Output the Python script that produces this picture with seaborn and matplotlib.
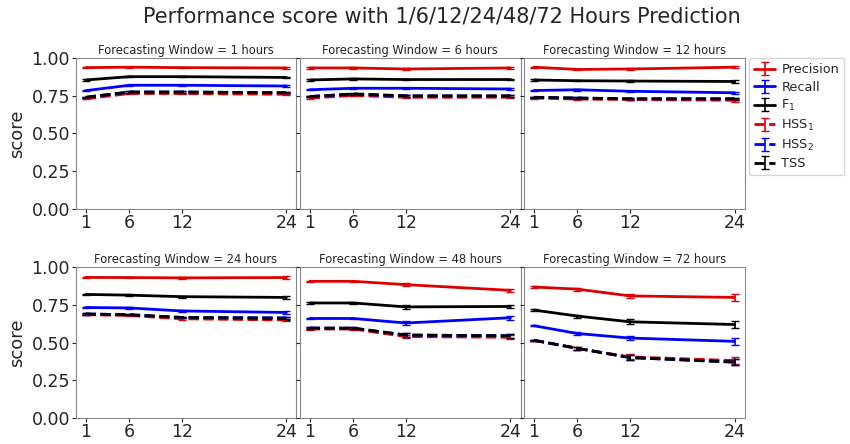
import numpy as np
import pandas as pd
import matplotlib
matplotlib.use('Agg')
import matplotlib.pyplot as plt
import seaborn as sns

windows = [1, 6, 12, 24, 48, 72]
hours = [1, 6, 12, 24]

# one row per forecasting window, one value per prediction hour
precision = [[0.937, 0.940, 0.937, 0.935],
             [0.935, 0.935, 0.928, 0.935],
             [0.940, 0.925, 0.928, 0.940],
             [0.933, 0.932, 0.930, 0.932],
             [0.907, 0.907, 0.885, 0.847],
             [0.869, 0.855, 0.810, 0.800]]
recall = [[0.784, 0.820, 0.820, 0.815],
          [0.790, 0.800, 0.800, 0.795],
          [0.785, 0.790, 0.780, 0.770],
          [0.733, 0.730, 0.710, 0.700],
          [0.660, 0.660, 0.630, 0.665],
          [0.612, 0.560, 0.530, 0.508]]
f1 = [[0.855, 0.877, 0.877, 0.872],
      [0.855, 0.862, 0.858, 0.858],
      [0.855, 0.850, 0.848, 0.845],
      [0.820, 0.815, 0.805, 0.800],
      [0.763, 0.763, 0.737, 0.740],
      [0.716, 0.676, 0.638, 0.620]]
hss1 = [[0.730, 0.765, 0.765, 0.760],
        [0.735, 0.752, 0.740, 0.740],
        [0.735, 0.728, 0.725, 0.720],
        [0.685, 0.680, 0.658, 0.650],
        [0.590, 0.590, 0.540, 0.535],
        [0.515, 0.460, 0.405, 0.380]]
hss2 = [[0.740, 0.775, 0.775, 0.770],
        [0.745, 0.760, 0.748, 0.748],
        [0.740, 0.735, 0.730, 0.730],
        [0.690, 0.685, 0.667, 0.665],
        [0.596, 0.596, 0.550, 0.545],
        [0.515, 0.462, 0.400, 0.370]]
tss = [[0.740, 0.775, 0.775, 0.770],
       [0.745, 0.763, 0.750, 0.750],
       [0.740, 0.735, 0.730, 0.730],
       [0.690, 0.685, 0.667, 0.660],
       [0.596, 0.596, 0.550, 0.545],
       [0.515, 0.462, 0.400, 0.370]]

# error bar half-widths per window (same for all metrics)
errs = [[0.004, 0.004, 0.004, 0.004],
        [0.004, 0.004, 0.005, 0.005],
        [0.004, 0.005, 0.005, 0.008],
        [0.004, 0.005, 0.006, 0.008],
        [0.005, 0.005, 0.012, 0.012],
        [0.005, 0.010, 0.016, 0.022]]

metrics = ['Precision', 'Recall', 'F$_1$', 'HSS$_1$', 'HSS$_2$', 'TSS']
series = [precision, recall, f1, hss1, hss2, tss]
colors = ['#dd0000', '#0000ff', 'black', '#dd0000', '#0000ff', 'black']
styles = ['-', '-', '-', '--', '--', '--']

rows = []
for m, s in zip(metrics, series):
    for wi, w in enumerate(windows):
        for hi, h in enumerate(hours):
            rows.append({'metric': m, 'window': w, 'hour': h,
                         'score': s[wi][hi], 'err': errs[wi][hi]})
df = pd.DataFrame(rows)

sns.set_style('white')
plt.rcParams['font.family'] = ['DejaVu Sans']

fig, axes = plt.subplots(2, 3, figsize=(8.5, 4.44), dpi=100, sharey=True)
fig.subplots_adjust(left=0.089, right=0.876, top=0.869, bottom=0.059,
                    wspace=0.015, hspace=0.39)

for ax, w in zip(axes.flat, windows):
    sub = df[df['window'] == w]
    for m, c, ls in zip(metrics, colors, styles):
        d = sub[sub['metric'] == m]
        eb = ax.errorbar(d['hour'], d['score'], yerr=d['err'], color=c,
                         lw=2, capsize=3, elinewidth=1.2, label=m)
        eb.lines[0].set_linestyle(ls)
    ax.set_title(f'Forecasting Window = {w} hours', fontsize=8.3, pad=3)
    ax.set_ylim(0, 1.0)
    ax.set_xticks(hours)
    ax.set_yticks([0, 0.25, 0.5, 0.75, 1.0])
    ax.tick_params(axis='both', labelsize=12.5, length=3, pad=1,
                   direction='out', left=True, bottom=True)
    for sp in ax.spines.values():
        sp.set_color('#888888')

for ax in axes[:, 0]:
    ax.set_ylabel('score', fontsize=13)

axes[0, 2].legend(loc='upper left', bbox_to_anchor=(1.02, 1.0), fontsize=9.3,
                  handlelength=1.6, handletextpad=0.5, labelspacing=0.35,
                  borderpad=0.4, borderaxespad=0, frameon=True,
                  fancybox=True, edgecolor='#cccccc')
fig.suptitle('Performance score with 1/6/12/24/48/72 Hours Prediction',
             fontsize=15, x=0.52, y=0.985)

plt.savefig('out.png', dpi=100)
